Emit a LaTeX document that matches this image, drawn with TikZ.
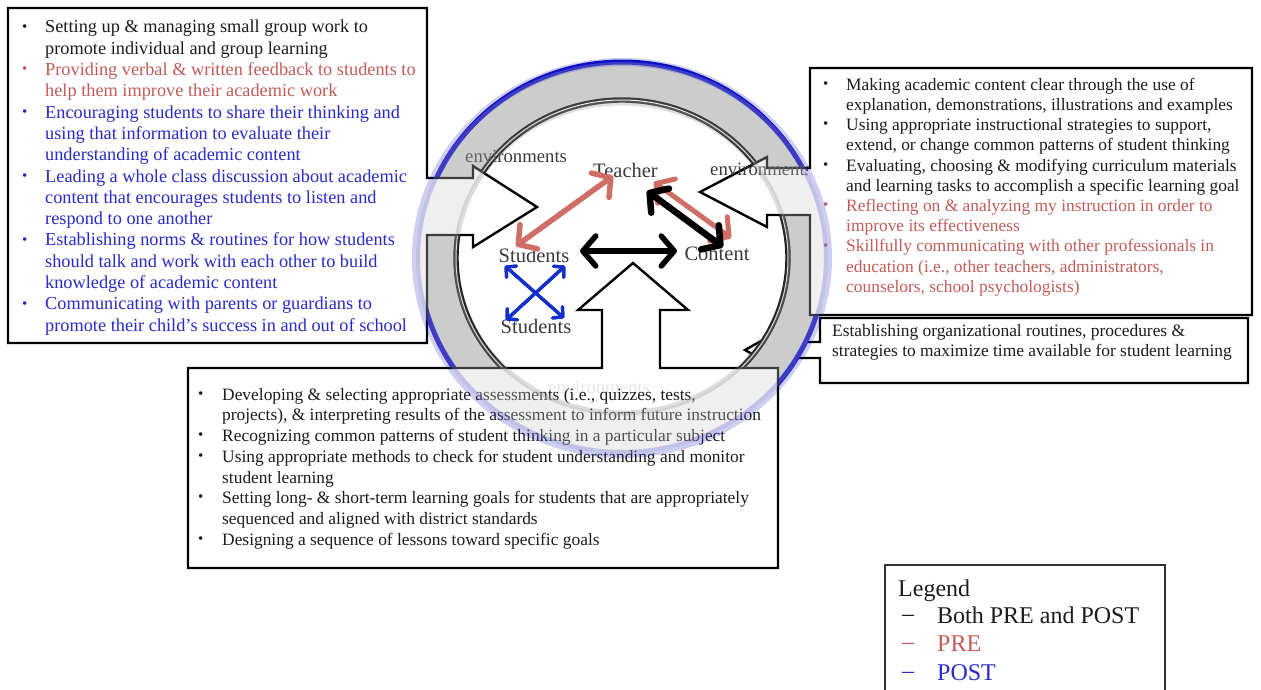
\documentclass[tikz,border=0pt]{standalone}
\usepackage{fontspec}
\setmainfont{Liberation Serif}
\usetikzlibrary{arrows.meta}

\definecolor{ink}{RGB}{28,28,28}
\definecolor{labelgray}{RGB}{58,58,58}
\definecolor{prered}{RGB}{194,92,88}
\definecolor{prearrow}{RGB}{206,110,100}
\definecolor{postblue}{RGB}{42,42,198}
\definecolor{ringblue}{RGB}{14,14,196}
\definecolor{ringgray}{RGB}{204,204,204}
\definecolor{arrowblue}{RGB}{16,48,214}

% list bullets: a small dot in a fixed-width slot, optionally coloured
\newcommand\dotslot[2][ink]{\makebox[#2][l]{\textcolor{#1}{\raisebox{1.8pt}{\fontsize{15}{15}\selectfont\textbullet}}}}
\newcommand\pretx[1]{\textcolor{prered}{#1}}
\newcommand\posttx[1]{\textcolor{postblue}{#1}}

\tikzset{
  callout/.style={draw=black, fill=white, line width=2.4pt, line join=miter},
  listtext/.style={anchor=north west, inner sep=0pt, text=ink},
  centerlabel/.style={anchor=base, inner sep=0pt, text=labelgray, font=\fontsize{20.5}{24}\selectfont},
  envlabel/.style={anchor=base west, inner sep=0pt, text=labelgray, font=\fontsize{18.7}{22}\selectfont},
  legendtext/.style={anchor=base west, inner sep=0pt, font=\fontsize{24}{28}\selectfont},
  bigarrow/.style={line width=5.5pt, line cap=round, >={Straight Barb[length=13pt,width=30pt,round]}, <->},
  smallarrow/.style={line width=3.2pt, line cap=round, >={Straight Barb[length=7pt,width=15pt,round]}, <->},
}

\begin{document}
\begin{tikzpicture}[x=1pt,y=-1pt]
\useasboundingbox (0,0) rectangle (1261,689);
\fill[white] (0,0) rectangle (1261,689);

% organisational-routines callout (lies under the ring)
\draw[callout] (820,318) -- (1248,318) -- (1248,383) -- (820,383) -- (820,358)
  -- (777,358) -- (777,368) -- (745,350) -- (777,332) -- (777,342) -- (820,342) -- cycle;
\node[listtext] (orgtext) at (832,322.7) {\fontsize{17.4}{20}\selectfont
  \begin{tabular}{@{}l@{}}
  Establishing organizational routines, procedures \&\\
  strategies to maximize time available for student learning
  \end{tabular}};

% the learning-environment ring
\fill[ringgray, even odd rule] (622,258) ellipse [x radius=203pt, y radius=196pt]
  (622,258) ellipse [x radius=168pt, y radius=160pt];
\draw[ringblue, line width=5pt] (622,258) ellipse [x radius=203pt, y radius=196pt];
\draw[line width=2.2pt, double=white, double distance=1pt]
  (622,258) ellipse [x radius=166pt, y radius=158pt];

% instructional triangle
\node[centerlabel] (teacher) at (625.5,177) {Teacher};
\node[centerlabel] (students) at (534,262) {Students};
\node[centerlabel] (content) at (717,260) {Content};
\node[centerlabel] (peers) at (536,333) {Students};

\coordinate (ts1) at (613,176);  \coordinate (ts2) at (516,246);
\coordinate (tc1) at (647,191);  \coordinate (tc2) at (723,247);
\coordinate (tr1) at (654,182);  \coordinate (tr2) at (731,238);
\coordinate (sc1) at (580,251);  \coordinate (sc2) at (677,251);
\coordinate (xa1) at (505,266);  \coordinate (xa2) at (564,318);
\coordinate (xb1) at (565,266);  \coordinate (xb2) at (506,320);

\draw[bigarrow, prearrow] (ts1) -- (ts2);
\draw[bigarrow, prearrow, line width=5pt] (tr1) -- (tr2);
\draw[bigarrow, black, line width=6.5pt] (tc1) -- (tc2);
\draw[bigarrow, black] (sc1) -- (sc2);
\draw[smallarrow, black, shift={(1.2,1.8)}] (xa1) -- (xa2);
\draw[smallarrow, black, shift={(1.2,1.8)}] (xb1) -- (xb2);
\draw[smallarrow, arrowblue] (xa1) -- (xa2);
\draw[smallarrow, arrowblue] (xb1) -- (xb2);

% left callout
\draw[callout] (8,8) -- (427,8) -- (427,178) -- (473,178) -- (473,166) -- (537,207)
  -- (473,247) -- (473,235) -- (427,235) -- (427,343) -- (8,343) -- cycle;
\node[listtext] (lefttext) at (22,17.8) {\fontsize{18.3}{21.3}\selectfont
  \begin{tabular}{@{}l@{}l@{}}
  \dotslot{23pt} & Setting up \& managing small group work to\\
   & promote individual and group learning\\
  \dotslot[prered]{23pt} & \pretx{Providing verbal \& written feedback to students to}\\
   & \pretx{help them improve their academic work}\\
  \dotslot[postblue]{23pt} & \posttx{Encouraging students to share their thinking and}\\
   & \posttx{using that information to evaluate their}\\
   & \posttx{understanding of academic content}\\
  \dotslot[postblue]{23pt} & \posttx{Leading a whole class discussion about academic}\\
   & \posttx{content that encourages students to listen and}\\
   & \posttx{respond to one another}\\
  \dotslot[postblue]{23pt} & \posttx{Establishing norms \& routines for how students}\\
   & \posttx{should talk and work with each other to build}\\
   & \posttx{knowledge of academic content}\\
  \dotslot[postblue]{23pt} & \posttx{Communicating with parents or guardians to}\\
   & \posttx{promote their child’s success in and out of school}
  \end{tabular}};

% right callout
\draw[callout] (810,68) -- (1252,68) -- (1252,315) -- (810,315) -- (810,215)
  -- (767,215) -- (767,227) -- (700,192) -- (767,157) -- (767,168) -- (810,168) -- cycle;
\node[listtext] (righttext) at (823,75.9) {\fontsize{17.4}{20.2}\selectfont
  \begin{tabular}{@{}l@{}l@{}}
  \dotslot{23pt} & Making academic content clear through the use of\\
   & explanation, demonstrations, illustrations and examples\\
  \dotslot{23pt} & Using appropriate instructional strategies to support,\\
   & extend, or change common patterns of student thinking\\
  \dotslot{23pt} & Evaluating, choosing \& modifying curriculum materials\\
   & and learning tasks to accomplish a specific learning goal\\
  \dotslot[prered]{23pt} & \pretx{Reflecting on \& analyzing my instruction in order to}\\
   & \pretx{improve its effectiveness}\\
  \dotslot[prered]{23pt} & \pretx{Skillfully communicating with other professionals in}\\
   & \pretx{education (i.e., other teachers, administrators,}\\
   & \pretx{counselors, school psychologists)}
  \end{tabular}};

% bottom callout
\draw[callout] (188,368) -- (602,368) -- (602,310) -- (578,310) -- (633,263)
  -- (688,310) -- (660,310) -- (660,368) -- (778,368) -- (778,568) -- (188,568) -- cycle;
\node[listtext] (bottomtext) at (198,385.5) {\fontsize{17.4}{20.7}\selectfont
  \begin{tabular}{@{}l@{}l@{}}
  \dotslot{24pt} & Developing \& selecting appropriate assessments (i.e., quizzes, tests,\\
   & projects), \& interpreting results of the assessment to inform future instruction\\
  \dotslot{24pt} & Recognizing common patterns of student thinking in a particular subject\\
  \dotslot{24pt} & Using appropriate methods to check for student understanding and monitor\\
   & student learning\\
  \dotslot{24pt} & Setting long- \& short-term learning goals for students that are appropriately\\
   & sequenced and aligned with district standards\\
  \dotslot{24pt} & Designing a sequence of lessons toward specific goals
  \end{tabular}};

% ring labels, the right one disappearing under the right callout
\node[envlabel] (envleft) at (465,162) {environments};
\begin{scope}
  \clip (690,140) rectangle (807,190);
  \node[envlabel] (envright) at (710,175) {environments};
\end{scope}

% faint echo of the ring laid over everything
\fill[ringgray, opacity=0.3, even odd rule] (622,258) ellipse [x radius=206pt, y radius=196pt]
  (622,258) ellipse [x radius=166pt, y radius=155pt];
\draw[ringblue, opacity=0.2, line width=8pt] (622,258) ellipse [x radius=206pt, y radius=196pt];
\draw[black!45, opacity=0.28, line width=5pt] (622,258) ellipse [x radius=166pt, y radius=155pt];
\node[envlabel, opacity=0.12] (envbottom) at (548,393) {environments};

% legend
\draw[line width=1.3pt, draw=black!80, fill=white] (885,565) rectangle (1165,695);
\node[legendtext, text=ink] (legendtitle) at (898,596) {Legend};
\node[legendtext, text=ink] (dashboth) at (902,623) {\raisebox{1.5pt}{–}};
\node[legendtext, text=ink] (keyboth) at (937,623) {Both PRE and POST};
\node[legendtext, text=prered] (dashpre) at (902,651) {\raisebox{1.5pt}{–}};
\node[legendtext, text=prered] (keypre) at (937,651) {PRE};
\node[legendtext, text=postblue] (dashpost) at (902,680) {\raisebox{1.5pt}{–}};
\node[legendtext, text=postblue] (keypost) at (937,680) {POST};
\end{tikzpicture}
\end{document}
